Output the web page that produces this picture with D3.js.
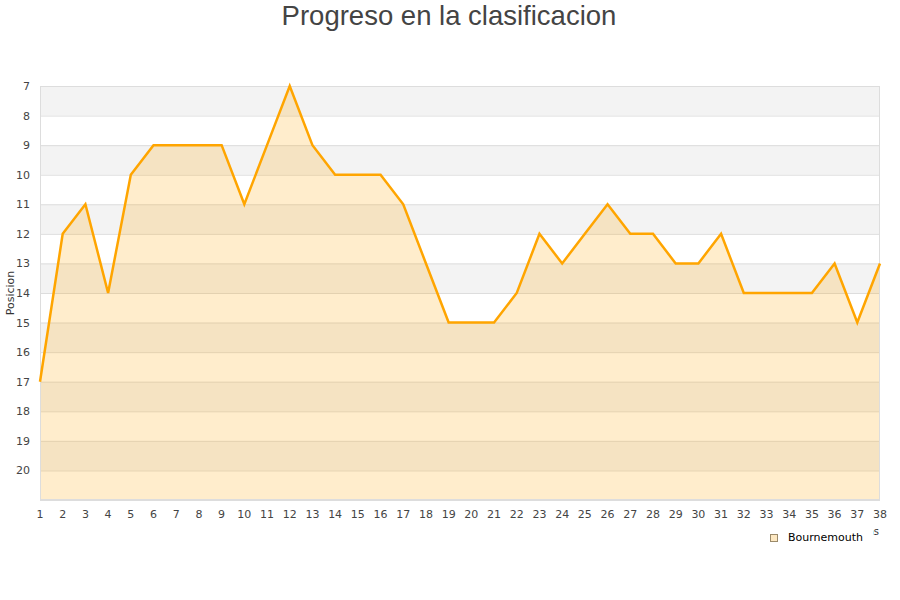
<!DOCTYPE html>
<html><head><meta charset="utf-8">
<script src="https://cdn.jsdelivr.net/npm/d3@7"></script>
<style>body{margin:0;background:#fff}svg{display:block}</style>
</head><body>
<svg id="c" width="900" height="600"></svg>
<script>
const title = "Progreso en la clasificacion";
const yTitle = "Posicion";
const xTitle = "Jornadas";
const seriesName = "Bournemouth";
const jornadas = d3.range(1, 39);
const posiciones = [17,12,11,14,10,9,9,9,9,11,9,7,9,10,10,10,11,13,15,15,15,14,12,13,12,11,12,12,13,13,12,14,14,14,14,13,15,13];
const yTicks = [7,8,9,10,11,12,13,14,15,16,17,18,19,20];

const svg = d3.select("#c");
const m = {l:40, r:20, t:86, b:100};
const W = 900, H = 600;
const x = d3.scaleLinear().domain([1,38]).range([m.l, W-m.r]);
const y = d3.scaleLinear().domain([7,21]).range([m.t, H-m.b]);

// bands
svg.append("g").selectAll("rect").data(d3.range(7,21)).join("rect")
  .attr("x", x(1)).attr("width", x(38)-x(1))
  .attr("y", d=>y(d)).attr("height", d=>y(d+1)-y(d))
  .attr("fill", d=> (d%2===1) ? "#f3f3f3" : "#ffffff");

// grid lines
svg.append("g").selectAll("line").data(d3.range(7,22)).join("line")
  .attr("x1", x(1)).attr("x2", x(38))
  .attr("y1", d=>y(d)+0.5).attr("y2", d=>y(d)+0.5)
  .attr("stroke", "#dddddd").attr("stroke-width",1);

const data = jornadas.map((j,i)=>({j, p:posiciones[i]}));
// area
svg.append("path").datum(data)
  .attr("d", d3.area().x(d=>x(d.j)).y0(y(21)).y1(d=>y(d.p)))
  .attr("fill", "#ffa500").attr("fill-opacity", 0.2);

// border
svg.append("rect").attr("x", x(1)+0.5).attr("y", y(7)+0.5)
  .attr("width", x(38)-x(1)-1).attr("height", y(21)-y(7)-1)
  .attr("fill","none").attr("stroke","#dddddd");

// line
svg.append("path").datum(data)
  .attr("d", d3.line().x(d=>x(d.j)).y(d=>y(d.p)))
  .attr("fill","none").attr("stroke","#ffa500").attr("stroke-width",2.5)
  .attr("stroke-linejoin","miter");

// y labels
svg.append("g").selectAll("text").data(yTicks).join("text")
  .attr("x", 30).attr("y", d=>y(d)+4)
  .attr("text-anchor","end")
  .attr("font-family","DejaVu Sans").attr("font-size",11).attr("fill","#444")
  .text(d=>d);

// x labels
svg.append("g").selectAll("text").data(jornadas).join("text")
  .attr("x", d=>x(d)).attr("y", 518)
  .attr("text-anchor","middle")
  .attr("font-family","DejaVu Sans").attr("font-size",11).attr("fill","#444")
  .text(d=>d);

// y title
svg.append("text").attr("transform","translate(14,293) rotate(-90)")
  .attr("text-anchor","middle")
  .attr("font-family","DejaVu Sans").attr("font-size",11).attr("fill","#333")
  .text(yTitle);

// x title (mostly hidden by legend, as in the reference)
svg.append("text").attr("x", 879).attr("y", 535)
  .attr("text-anchor","end")
  .attr("font-family","DejaVu Sans").attr("font-size",10).attr("fill","#333")
  .text(xTitle);

// legend
const lg = svg.append("g");
lg.append("rect").attr("x",760).attr("y",527).attr("width",113).attr("height",22).attr("fill","#fff");
lg.append("rect").attr("x",770.5).attr("y",534.5).attr("width",7).attr("height",7)
  .attr("fill","#fde8c2").attr("stroke","#9b8a6a");
lg.append("text").attr("x",788).attr("y",541)
  .attr("font-family","DejaVu Sans").attr("font-size",11).attr("fill","#000")
  .text(seriesName);

// title
svg.append("text").attr("x",449).attr("y",25)
  .attr("text-anchor","middle")
  .attr("font-family","Liberation Sans, Arial").attr("font-size",27.5).attr("fill","#444")
  .text(title);
</script>
</body></html>
